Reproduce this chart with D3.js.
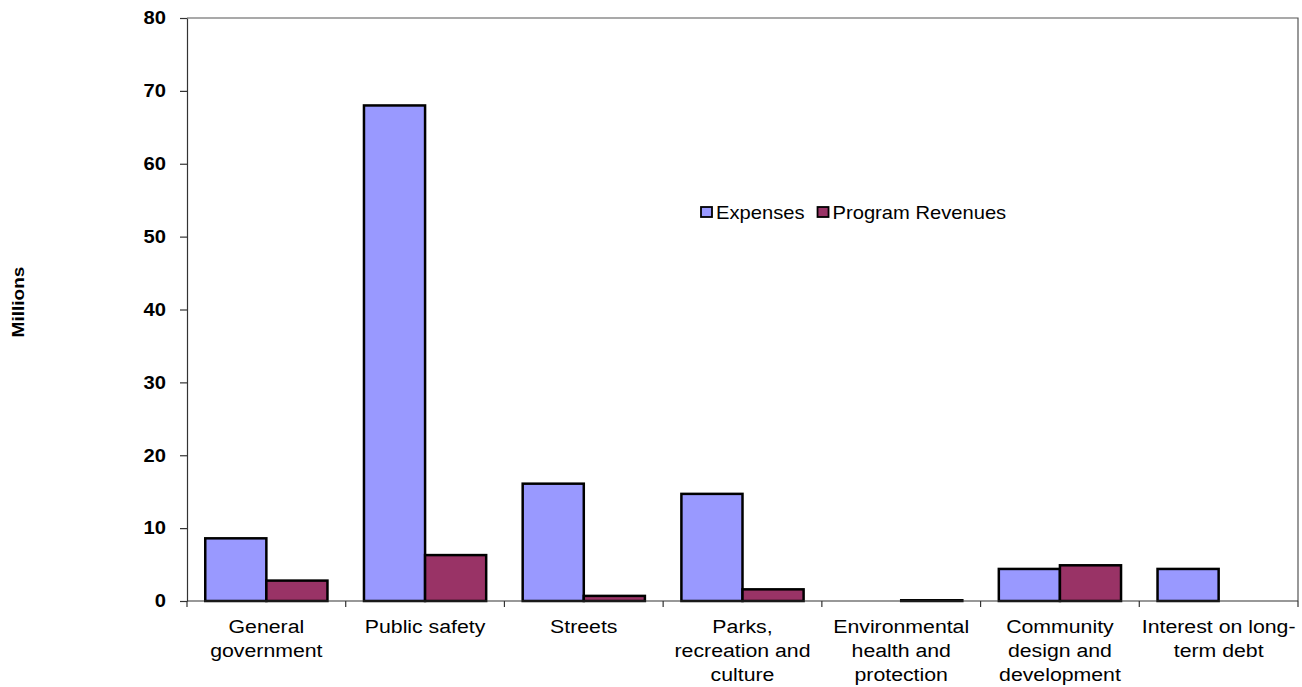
<!DOCTYPE html>
<html>
<head>
<meta charset="utf-8">
<script src="https://cdn.jsdelivr.net/npm/d3@7"></script>
<style>
  html, body { margin: 0; padding: 0; background: #fff; }
  svg { display: block; font-family: Arial, "Liberation Sans", sans-serif; }
</style>
</head>
<body>
<svg id="chart" width="1302" height="687"></svg>
<script>
// Governmental activities: expenses vs. program revenues (in millions)
const categories = [
  ["General", "government"],
  ["Public safety"],
  ["Streets"],
  ["Parks,", "recreation and", "culture"],
  ["Environmental", "health and", "protection"],
  ["Community", "design and", "development"],
  ["Interest on long-", "term debt"]
];
const expenses        = [8.6, 68.0, 16.1, 14.7, 0.0, 4.4, 4.4];
const programRevenues = [2.8, 6.3, 0.7, 1.6, 0.1, 4.9, 0.0];
const seriesNames  = ["Expenses", "Program Revenues"];
const seriesColors = ["#9999FF", "#993366"];
const yTicks = [0, 10, 20, 30, 40, 50, 60, 70, 80];

// text in this chart is drawn slightly wide
const SX = 1.12;

const svg = d3.select("#chart");
const margin = { left: 187, top: 18, right: 4, bottom: 86 };
const W = 1302, H = 687;
const innerW = W - margin.left - margin.right;
const innerH = H - margin.top - margin.bottom;

const g = svg.append("g").attr("transform", `translate(${margin.left},${margin.top})`);

const keys = categories.map((d, i) => i);
const x0 = d3.scaleBand().domain(keys).range([0, innerW]).paddingInner(0.23).paddingOuter(0.115);
const x1 = d3.scaleBand().domain([0, 1]).range([0, x0.bandwidth()]);
const y = d3.scaleLinear().domain([0, 80]).range([innerH, 0]);

// plot area frame (top and right)
g.append("path")
  .attr("d", `M0,0H${innerW}V${innerH}`)
  .attr("fill", "none").attr("stroke", "#555").attr("stroke-width", 1.2);

// bars
const rows = keys.map(i => [expenses[i], programRevenues[i]]);
const grp = g.selectAll("g.cat").data(rows).join("g")
  .attr("class", "cat")
  .attr("transform", (d, i) => `translate(${x0(i)},0)`);
grp.selectAll("rect").data(d => d.map((v, s) => ({ v, s })).filter(o => o.v > 0)).join("rect")
  .attr("x", d => x1(d.s))
  .attr("width", x1.bandwidth())
  .attr("y", d => y(d.v))
  .attr("height", d => Math.max(0, innerH - y(d.v)))
  .attr("fill", d => seriesColors[d.s])
  .attr("stroke", "#000").attr("stroke-width", 2.5);

// y axis
const yAxis = g.append("g")
  .call(d3.axisLeft(y).tickValues(yTicks).tickSize(7).tickSizeOuter(0));
yAxis.select(".domain").attr("stroke", "#333").attr("stroke-width", 1.2);
yAxis.selectAll(".tick line").attr("stroke", "#333").attr("stroke-width", 1.2);
yAxis.selectAll(".tick text")
  .attr("x", 0)
  .attr("transform", `translate(-21,0) scale(${SX},1)`)
  .attr("font-size", 18).attr("font-weight", "bold").attr("fill", "#000")
  .attr("font-family", "Arial, 'Liberation Sans', sans-serif");

// x axis with ticks at category boundaries
const xAxisG = g.append("g").attr("transform", `translate(0,${innerH})`);
xAxisG.append("line").attr("x1", 0).attr("x2", innerW)
  .attr("stroke", "#333").attr("stroke-width", 1.2);
const step = innerW / categories.length;
d3.range(categories.length + 1).forEach(i => {
  xAxisG.append("line")
    .attr("x1", i * step).attr("x2", i * step)
    .attr("y1", 0).attr("y2", 6)
    .attr("stroke", "#333").attr("stroke-width", 1.2);
});
categories.forEach((lines, i) => {
  const t = xAxisG.append("text")
    .attr("text-anchor", "middle")
    .attr("font-size", 19).attr("fill", "#000")
    .attr("transform", `translate(${x0(i) + x0.bandwidth() / 2},32) scale(${SX},1)`);
  lines.forEach((ln, k) => t.append("tspan").attr("x", 0).attr("dy", k === 0 ? 0 : 24).text(ln));
});

// y axis title
svg.append("text")
  .attr("transform", `translate(24,302) rotate(-90) scale(${SX},1)`)
  .attr("text-anchor", "middle")
  .attr("font-size", 17).attr("font-weight", "bold").attr("fill", "#000")
  .text("Millions");

// legend
const legend = svg.append("g").attr("transform", "translate(701,212)");
let lx = 0;
seriesNames.forEach((name, s) => {
  const item = legend.append("g").attr("transform", `translate(${lx},0)`);
  item.append("rect").attr("x", 0).attr("y", -5).attr("width", 11).attr("height", 10)
    .attr("fill", seriesColors[s]).attr("stroke", "#000").attr("stroke-width", 1.8);
  const txt = item.append("text")
    .attr("transform", `translate(15,7) scale(${SX},1)`)
    .attr("font-size", 18).attr("fill", "#000").text(name);
  lx += 15 + txt.node().getComputedTextLength() * SX + 13;
});
</script>
</body>
</html>
